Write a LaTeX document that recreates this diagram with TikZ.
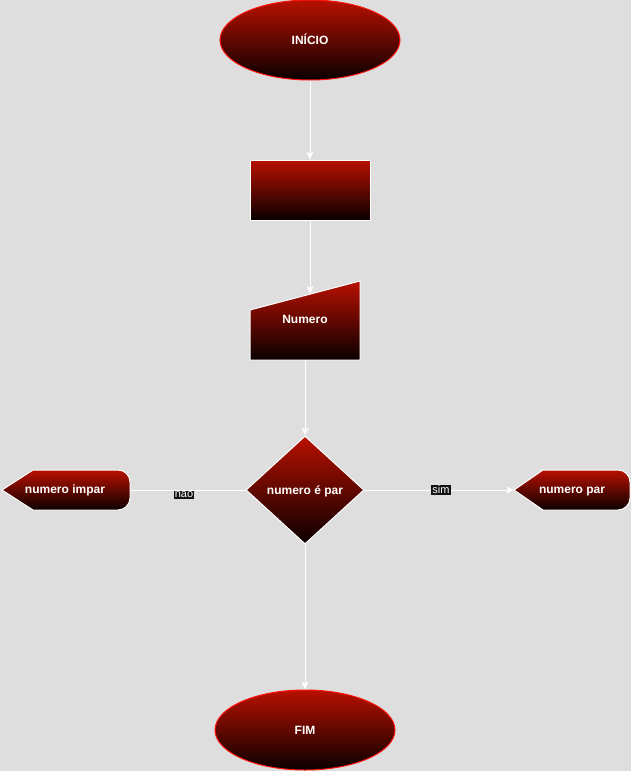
\documentclass[tikz,border=0pt]{standalone}
\usepackage{fontspec}
\setmainfont{Liberation Sans}
\usetikzlibrary{shapes.geometric,arrows.meta}
\definecolor{bg}{RGB}{222,222,222}
\definecolor{topred}{RGB}{184,16,0}
\definecolor{botblk}{RGB}{10,0,0}
\definecolor{rim}{RGB}{255,20,10}
\tikzset{
  grad/.style={top color=topred, bottom color=botblk},
  txt/.style={text=white, font=\fontsize{12}{14}\selectfont\bfseries, text height=8pt, text depth=0pt},
  term/.style={ellipse, grad, draw=rim, line width=1pt, minimum width=180pt, minimum height=80pt, inner sep=0pt, txt},
  edge/.style={draw=white, line width=1pt},
  arr/.style={edge, -{Stealth[length=8pt,width=7pt,inset=2pt]}},
  elabel/.style={fill=black!93, text=white, inner sep=1pt, font=\fontsize{11}{12}\selectfont}
}
\begin{document}
\begin{tikzpicture}[x=1pt,y=-1pt]
\useasboundingbox (0,0) rectangle (631,771);
\fill[bg] (0,0) rectangle (631,771);
% terminals
\node[term] (inicio) at (310,40) {INÍCIO};
\node[term] (fim) at (305,730) {FIM};
% process
\node[rectangle, grad, draw=white, line width=1pt, minimum width=120pt, minimum height=60pt, inner sep=0pt] (proc) at (310,190) {};
% manual input
\path[grad, draw=white, line width=1pt] (250,310) -- (360,281) -- (360,360) -- (250,360) -- cycle;
\node[txt] (numero) at (305,319.5) {Numero};
\coordinate (numtop) at (310,294);
\coordinate (numbot) at (305,360);
% decision
\node[diamond, grad, draw=white, line width=1pt, minimum width=118pt, minimum height=108pt, inner sep=0pt, txt] (dec) at (305,490) {numero é par};
% display shapes
\path[grad, draw=white, line width=1pt] (2,490) -- (33,470) [rounded corners=12pt] -- (130,470) -- (130,510) [sharp corners] -- (33,510) -- cycle;
\node[txt] (impar) at (65,489.5) {numero impar};
\coordinate (imparR) at (130,490);
\path[grad, draw=white, line width=1pt] (514,490) -- (543,470) [rounded corners=12pt] -- (630,470) -- (630,510) [sharp corners] -- (543,510) -- cycle;
\node[txt] (par) at (572,489.5) {numero par};
\coordinate (parL) at (514,490);
% connectors
\draw[arr] (inicio.south) -- (proc.north);
\draw[arr] (proc.south) -- (numtop);
\draw[arr] (numbot) -- (dec.north);
\draw[arr] (dec.south) -- (fim.north);
\draw[arr] (dec.east) -- (parL);
\draw[edge] (dec.west) -- (imparR);
\node[elabel] (sim) at (441,490) {sim};
\node[elabel] (nao) at (184,495) {nao};
\end{tikzpicture}
\end{document}
